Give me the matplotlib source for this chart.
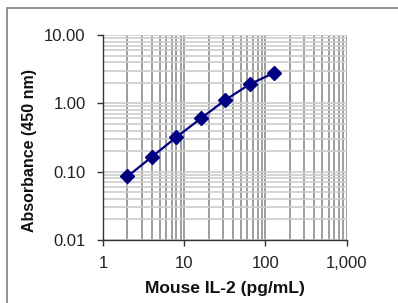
import matplotlib
matplotlib.use("Agg")
import matplotlib.pyplot as plt
from matplotlib.patches import Rectangle
from matplotlib.ticker import LogLocator, FixedLocator, NullFormatter

conc = [2, 4, 8, 16, 32, 64, 128]
absorb = [0.085, 0.165, 0.32, 0.60, 1.12, 1.90, 2.80]
xticks = [1, 10, 100, 1000]
xticklabels = ["1", "10", "100", "1,000"]
yticks = [0.01, 0.1, 1, 10]
yticklabels = ["0.01", "0.10", "1.00", "10.00"]

plt.rcParams['font.family'] = ['Liberation Sans', 'DejaVu Sans']

W, H = 398, 303
fig = plt.figure(figsize=(W/100, H/100), dpi=100)
ax = fig.add_axes([103/W, 1 - 240/H, (346.7-103)/W, (240-35)/H])

ax.set_xscale('log')
ax.set_yscale('log')
ax.set_xlim(1, 1000)
ax.set_ylim(0.01, 10)

ax.xaxis.set_major_locator(FixedLocator(xticks))
ax.yaxis.set_major_locator(FixedLocator(yticks))
ax.xaxis.set_minor_locator(LogLocator(base=10, subs=range(2, 10)))
ax.yaxis.set_minor_locator(LogLocator(base=10, subs=range(2, 10)))
ax.xaxis.set_minor_formatter(NullFormatter())
ax.yaxis.set_minor_formatter(NullFormatter())
ax.grid(True, axis='x', which='both', color='#8e8e8e', linewidth=1.2)
ax.grid(True, axis='y', which='both', color='#cccccc', linewidth=1.2)
ax.set_axisbelow(True)

ax.set_xticks(xticks)
ax.set_xticklabels(xticklabels)
ax.set_yticks(yticks)
ax.set_yticklabels(yticklabels)
ax.tick_params(axis='both', which='major', direction='out', length=4.5, width=1,
               color='#333333', labelsize=12, labelcolor='#222222')
ax.tick_params(axis='both', which='minor', length=0)
ax.tick_params(axis='y', pad=8)
ax.tick_params(axis='x', pad=7)

for s in ['top', 'right']:
    ax.spines[s].set_visible(False)
for s in ['left', 'bottom']:
    ax.spines[s].set_color('#333333')
    ax.spines[s].set_linewidth(1.0)

ax.plot(conc, absorb, color='#000080', linewidth=1.6, marker='D',
        markersize=7, markerfacecolor='#000080', markeredgecolor='#000080',
        zorder=5, clip_on=False)

fig.text(30/W, 1 - 150/H, "Absorbance (450 nm)", rotation=90, ha='center',
         va='center', fontsize=11.5, fontweight='bold', color='#111111')
fig.text(225/W, 1 - 289/H, "Mouse IL-2 (pg/mL)", ha='center', va='center',
         fontsize=12.5, fontweight='bold', color='#111111')

fig.patches.append(Rectangle((7/W, -0.1), 1.1, 1 - 8/H + 0.1, transform=fig.transFigure,
                             fill=False, edgecolor='#808080', linewidth=1.2))

fig.savefig("out.png", dpi=100)
